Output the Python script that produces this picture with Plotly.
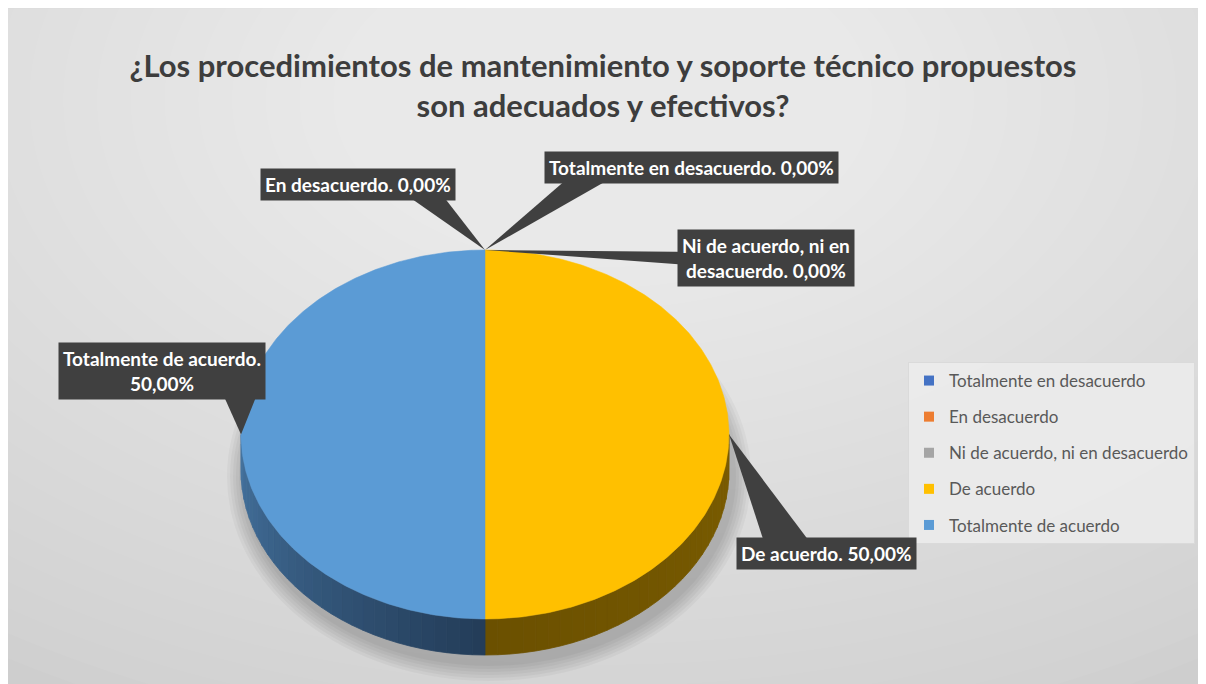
import math
import plotly.graph_objects as go

# ---------------- data ----------------
categories = ["Totalmente en desacuerdo", "En desacuerdo",
              "Ni de acuerdo, ni en desacuerdo", "De acuerdo",
              "Totalmente de acuerdo"]
values = [0, 0, 0, 50, 50]          # percent
colors = ["#4472C4", "#ED7D31", "#A5A5A5", "#FFC000", "#5B9BD5"]
side_colors_light = ["#2f4f8a", "#a5561f", "#737373", "#7a5c00", "#45739f"]
side_colors_dark = ["#1f3560", "#7a3f16", "#555555", "#6b5000", "#233c58"]
title_text = "¿Los procedimientos de mantenimiento y soporte técnico propuestos<br>son adecuados y efectivos?"

# label layout (box centres, line-break positions, wedge base points)
label_pos = [(691, 167), (358, 184), (766, 258), (826, 553), (162, 371)]
label_break = [None, None, "Ni de acuerdo, ni en<br>desacuerdo", None, None]
label_break_value = [False, False, False, False, True]
wedge_base = [((575, 172), (622, 172)), ((402, 192), (440, 192)),
              ((702, 252), (702, 266)), ((765, 545), (812, 545)),
              ((222, 392), (258, 392))]

# ---------------- geometry ----------------
OFF = 8                      # page margin of the html body
cx, cy, rx, ry, depth = 485, 434.5, 244, 184.5, 36
W, H = 1206, 684
FW, FH = W - OFF, H - OFF    # figure size that fits the window


def pt(theta_deg, dy=0.0):
    t = math.radians(theta_deg)
    return cx + rx * math.sin(t), cy - ry * math.cos(t) + dy


def hexmix(c1, c2, f):
    a = [int(c1[i:i + 2], 16) for i in (1, 3, 5)]
    b = [int(c2[i:i + 2], 16) for i in (1, 3, 5)]
    return "#%02x%02x%02x" % tuple(round(a[i] + (b[i] - a[i]) * f) for i in range(3))


total = sum(values)
angles = []
acc = 0.0
for v in values:
    a0 = acc / total * 360
    acc += v
    a1 = acc / total * 360
    angles.append((a0, a1))

fig = go.Figure()

# side walls (front half: 90..270 deg)
for i, (a0, a1) in enumerate(angles):
    s0, s1 = max(a0, 90), min(a1, 270)
    if s1 - s0 <= 0:
        continue
    nseg = max(1, int((s1 - s0) / 3))
    for k in range(nseg):
        t0 = s0 + (s1 - s0) * k / nseg
        t1 = s0 + (s1 - s0) * (k + 1) / nseg
        ts = [t0 + (t1 - t0) * j / 6 for j in range(7)]
        xs = [pt(t)[0] for t in ts] + [pt(t, depth)[0] for t in reversed(ts)]
        ys = [pt(t)[1] for t in ts] + [pt(t, depth)[1] for t in reversed(ts)]
        tm = (t0 + t1) / 2
        f = abs(tm - 180) / 90.0   # 0 at front centre, 1 at sides
        col = hexmix(side_colors_dark[i], side_colors_light[i], f)
        fig.add_trace(go.Scatter(x=xs + [xs[0]], y=ys + [ys[0]], mode="lines",
                                 fill="toself", fillcolor=col,
                                 line=dict(width=0.8, color=col),
                                 hoverinfo="skip", showlegend=False))

# top faces
for i, (a0, a1) in enumerate(angles):
    if a1 - a0 <= 0:
        continue
    n = max(2, int((a1 - a0) * 1.5))
    ts = [a0 + (a1 - a0) * j / n for j in range(n + 1)]
    xs = [cx] + [pt(t)[0] for t in ts] + [cx]
    ys = [cy] + [pt(t)[1] for t in ts] + [cy]
    fig.add_trace(go.Scatter(x=xs, y=ys, mode="lines", fill="toself",
                             fillcolor=colors[i], line=dict(width=0.5, color=colors[i]),
                             name=categories[i], hoverinfo="skip", showlegend=False))

# legend entries
for i, cat in enumerate(categories):
    fig.add_trace(go.Scatter(x=[None], y=[None], mode="markers",
                             marker=dict(symbol="square", size=10, color=colors[i]),
                             name=cat, legendgroup=cat, showlegend=True))

# ---------------- background shapes ----------------
shapes = [dict(type="rect", xref="x", yref="y", x0=7, x1=W + 20, y0=8, y1=H + 20,
               fillcolor="#bebebe", line=dict(color="#b5b5b5", width=1.5), layer="below")]
N = 36
for k in range(N):
    r = 1350 * (1 - 0.9 * k / N)
    shapes.append(dict(type="circle", xref="x", yref="y",
                       x0=603 - r, x1=603 + r, y0=100 - r * 0.62, y1=100 + r * 0.62,
                       fillcolor="rgba(255,255,255,0.042)", line=dict(width=0),
                       layer="below"))
# soft shadow under pie
for k in range(6):
    e = 18 - 3 * k
    shapes.append(dict(type="circle", xref="x", yref="y",
                       x0=cx - rx - e + 4, x1=cx + rx + e + 4,
                       y0=cy - ry + 40 - e, y1=cy + ry + depth + 8 + e,
                       fillcolor="rgba(0,0,0,0.035)", line=dict(width=0), layer="below"))

# callout wedges
for i, (a0, a1) in enumerate(angles):
    ax, ay = pt((a0 + a1) / 2)
    (b1x, b1y), (b2x, b2y) = wedge_base[i]
    shapes.append(dict(type="path", xref="x", yref="y",
                       path=f"M {b1x},{b1y} L {ax:.1f},{ay:.1f} L {b2x},{b2y} Z",
                       fillcolor="#404040", line=dict(width=0), layer="above"))

# ---------------- labels ----------------
annotations = []
for i, cat in enumerate(categories):
    val = f"{values[i] / total * 100:.2f}".replace(".", ",") + "%"
    name = label_break[i] if label_break[i] else cat
    txt = f"{name}.<br>{val}" if label_break_value[i] else f"{name}. {val}"
    lx, ly = label_pos[i]
    annotations.append(dict(x=lx, y=ly, xref="x", yref="y", text=txt, showarrow=False,
                            font=dict(family="Lato", size=19, color="white", weight="bold"),
                            bgcolor="#404040", borderpad=4, align="center"))

fig.update_layout(
    width=FW, height=FH,
    margin=dict(l=0, r=0, t=0, b=0),
    paper_bgcolor="white", plot_bgcolor="rgba(0,0,0,0)",
    xaxis=dict(range=[OFF, W], visible=False, fixedrange=True),
    yaxis=dict(range=[H, OFF], visible=False, fixedrange=True),
    title=dict(text=title_text, x=(603 - OFF) / FW, xanchor="center",
               y=1 - (77 - OFF) / FH, yanchor="middle",
               font=dict(family="Lato", size=31, color="#3d3d3d", weight="bold")),
    legend=dict(x=(908 - OFF) / FW, y=1 - (362 - OFF) / FH, xanchor="left", yanchor="top",
                bgcolor="rgba(236,236,236,0.85)", bordercolor="#dadada", borderwidth=1,
                font=dict(family="Lato", size=17, color="#595959"),
                tracegroupgap=11, itemwidth=30),
    shapes=shapes, annotations=annotations, showlegend=True,
)

fig.write_html("out.html")
